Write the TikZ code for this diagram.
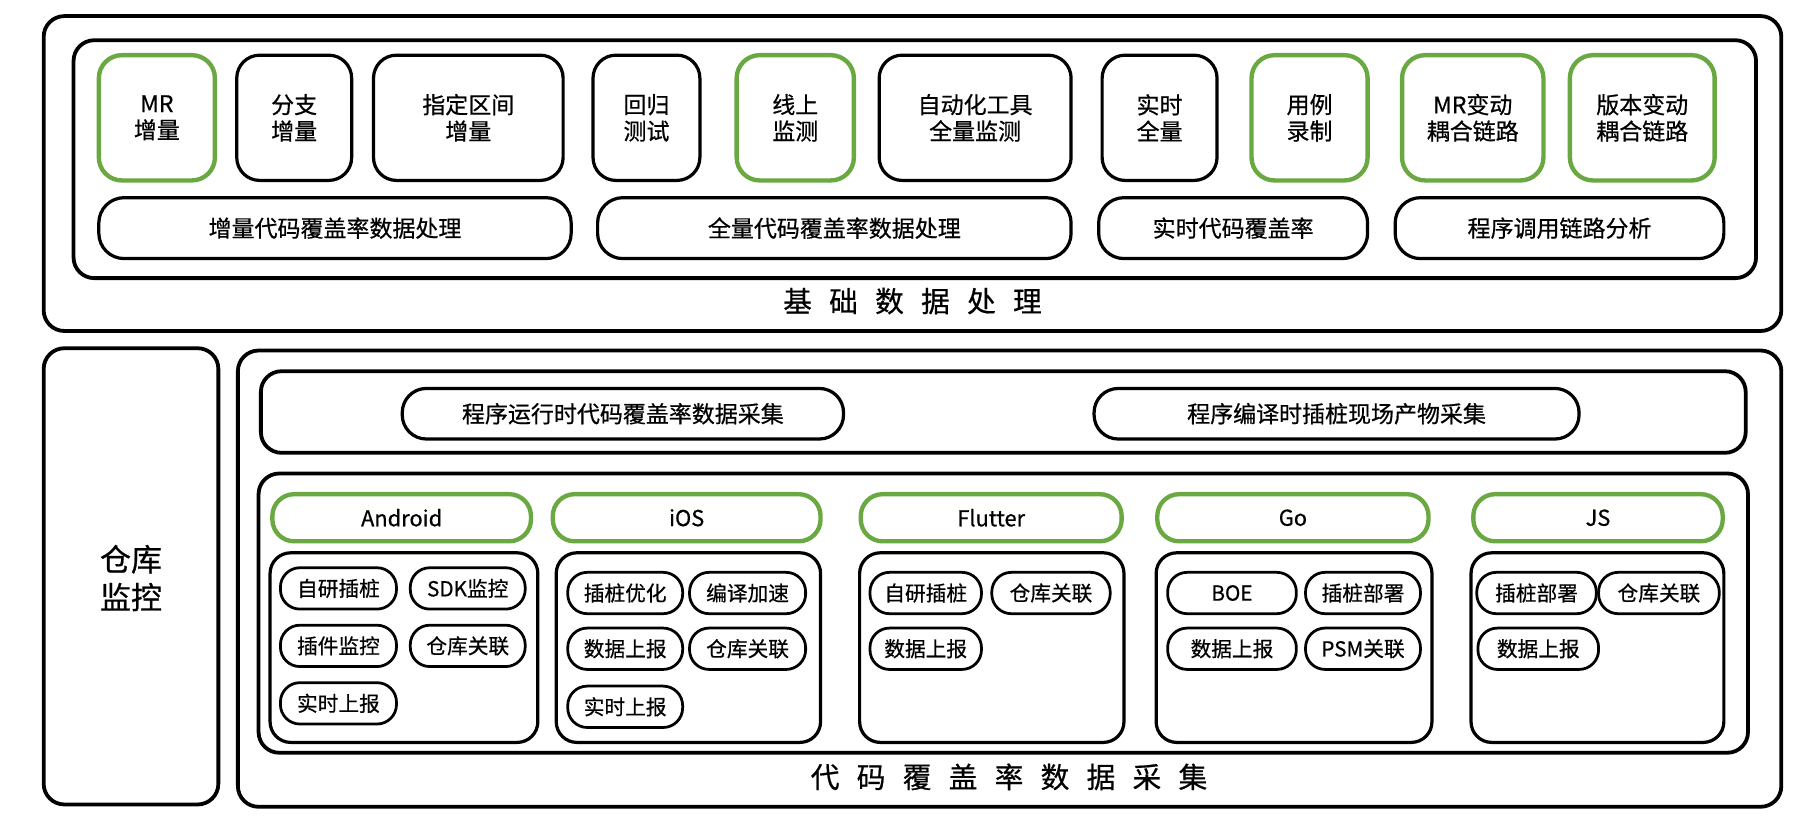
\documentclass[tikz,border=0pt]{standalone}
\usepackage{fontspec}
\setmainfont{Noto Sans CJK SC}[FakeBold=0.6]
\usetikzlibrary{positioning}

\definecolor{leafgreen}{RGB}{106,168,66}
\newcommand{\gap}{\hspace{15pt}}

\tikzset{
	frame/.style={draw, line width=3.3pt, rounded corners=18pt},
	cell/.style={draw, line width=2.8pt, rounded corners=20pt, align=center, inner sep=0pt, font=\fontsize{20}{23}\selectfont},
	gcell/.style={cell, draw=leafgreen, line width=3.8pt},
	bar/.style={draw, line width=2.8pt, rounded corners=22pt, inner sep=0pt, minimum height=53, font=\fontsize{20}{23}\selectfont},
	pill/.style={draw, line width=2.4pt, rounded corners=17pt, inner sep=0pt, minimum height=36, font=\fontsize{18}{21}\selectfont},
	head/.style={draw=leafgreen, line width=3.8pt, rounded corners=19pt, inner sep=0pt, minimum height=41, font=\fontsize{19}{21}\selectfont},
	title/.style={font=\fontsize{25}{27}\selectfont}
}

\begin{document}
\begin{tikzpicture}[x=1pt, y=-1pt]
	\useasboundingbox (0,0) rectangle (1568,713);
	
	% basic data processing
	\draw [frame] (38,14) rectangle (1550,288);
	\draw [frame] (64,35) rectangle (1528,242);
	
	\foreach \n/\a/\b/\t in {fz/206/306/{分支\\增量}, zdqj/325/490/{指定区间\\增量}, hg/516/609/{回归\\测试}, zdh/765/932/{自动化工具\\全量监测}, ss/959/1059/{实时\\全量}}
		\node [cell, minimum width={\b-\a}, minimum height=109] (\n) at ({(\a+\b)/2},102.5) {\t};
	
	\foreach \n/\a/\b/\t in {mr/86/187/{MR\\增量}, xs/641/743/{线上\\监测}, yl/1089/1190/{用例\\录制}, mrbd/1220/1343/{MR变动\\耦合链路}, bbbd/1366/1492/{版本变动\\耦合链路}}
		\node [gcell, minimum width={\b-\a}, minimum height=109] (\n) at ({(\a+\b)/2},102.5) {\t};
	
	\foreach \n/\a/\b/\t in {zlcl/86/497/增量代码覆盖率数据处理, qlcl/520/932/全量代码覆盖率数据处理, ssfg/956/1190/实时代码覆盖率, dyfx/1214/1500/程序调用链路分析}
		\node [bar, minimum width={\b-\a}] (\n) at ({(\a+\b)/2},198.5) {\t};
	
	\node [title] (jc) at (794,262) {基\gap 础\gap 数\gap 据\gap 处\gap 理};
	
	% repository monitoring
	\draw [frame] (38,303) rectangle (190,700);
	\node [font=\fontsize{27}{33}\selectfont, align=center] (ck) at (114,503) {仓库\\监控};
	
	% code coverage collection
	\draw [frame] (207,305) rectangle (1550,702);
	\draw [frame] (227,323) rectangle (1519,394);
	\node [bar, minimum width=384, minimum height=44, rounded corners=21pt] (yx) at (542,360) {程序运行时代码覆盖率数据采集};
	\node [bar, minimum width=422, minimum height=44, rounded corners=21pt] (by) at (1163,360) {程序编译时插桩现场产物采集};
	
	\draw [frame] (225,412) rectangle (1521,655);
	
	\foreach \n/\a/\b/\t in {android/237/462/Android, ios/481/714/iOS, flutter/749/976/Flutter, go/1007/1243/Go, js/1282/1499/JS}
		\node [head, minimum width={\b-\a}] (\n) at ({(\a+\b)/2},450.5) {\t};
	
	\foreach \n/\a/\b in {android/235/468, ios/484/714, flutter/748/978, go/1006/1246, js/1280/1500}
		\draw [frame, line width=2.8pt] (\a,481) rectangle (\b,646);
	
	\foreach \n/\x/\y/\w/\t in {a1/294.5/512/101/自研插桩, a2/407/512/100/SDK监控, a3/294.5/562/101/插件监控, a4/407/562/100/仓库关联, a5/294.5/612/101/实时上报,
		i1/544/516/100/插桩优化, i2/650.5/516/101/编译加速, i3/544/564.5/100/数据上报, i4/650.5/564.5/101/仓库关联, i5/544/615/100/实时上报,
		f1/805.5/516/97/自研插桩, f2/914.5/516/103/仓库关联, f3/805.5/564.5/97/数据上报,
		g1/1072/516/112/BOE, g2/1186/516/100/插桩部署, g3/1072/564.5/112/数据上报, g4/1186/564.5/100/PSM关联,
		j1/1337/516/104/插桩部署, j2/1443.5/516/105/仓库关联, j3/1338.5/564.5/105/数据上报}
		\node [pill, minimum width=\w] (\n) at (\x,\y) {\t};
	
	\node [title] (dm) at (878,676) {代\gap 码\gap 覆\gap 盖\gap 率\gap 数\gap 据\gap 采\gap 集};
\end{tikzpicture}
\end{document}
